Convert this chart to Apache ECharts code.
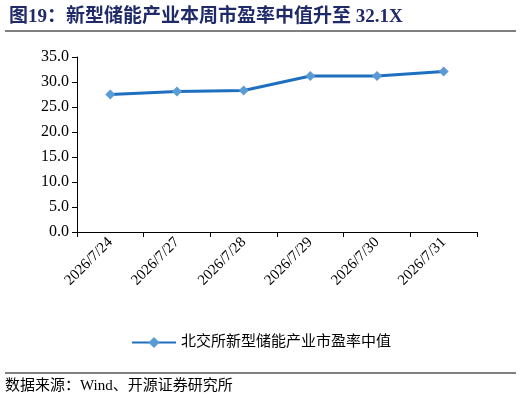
<!DOCTYPE html><html><head><meta charset="utf-8"><script src="https://cdn.jsdelivr.net/npm/echarts@6/dist/echarts.min.js"></script></head><body style="margin:0"><div id="c" style="width:522px;height:405px"></div><script>
var categories=['2026/7/24','2026/7/27','2026/7/28','2026/7/29','2026/7/30','2026/7/31'];
var values=[27.5,28.1,28.3,31.2,31.2,32.1];
var seriesName='北交所新型储能产业市盈率中值';
var f='"Liberation Serif","Noto Sans CJK SC",serif';
var c=echarts.init(document.getElementById('c'));
c.setOption({animation:false,
title:{text:'图19：新型储能产业本周市盈率中值升至 32.1X',left:4,top:3,textStyle:{fontFamily:f,fontSize:19,fontWeight:'bold',color:'#1f2a68'}},
graphic:[{type:'line',shape:{x1:5,y1:31,x2:516,y2:31},style:{stroke:'#000',lineWidth:1}},
{type:'line',shape:{x1:5,y1:373,x2:516,y2:373},style:{stroke:'#000',lineWidth:1}},
{type:'text',left:5,top:379,style:{text:'数据来源：Wind、开源证券研究所',font:'15px '+f,fill:'#000'}}],
legend:{bottom:50,left:'center',itemWidth:44,itemGap:10,textStyle:{fontFamily:f,fontSize:15,color:'#000'},data:[seriesName]},
grid:{left:77,top:57,width:400,height:175},
xAxis:{type:'category',data:categories,boundaryGap:true,axisLine:{lineStyle:{color:'#000'}},axisTick:{show:true,lineStyle:{color:'#000'}},axisLabel:{rotate:45,color:'#000',fontFamily:f,fontSize:15,interval:0,margin:8}},
yAxis:{type:'value',min:0,max:35,interval:5,axisLine:{show:true,lineStyle:{color:'#000'}},axisTick:{show:true,lineStyle:{color:'#000'}},splitLine:{show:false},axisLabel:{formatter:function(v){return v.toFixed(1)},color:'#000',fontFamily:f,fontSize:16}},
series:[{name:seriesName,type:'line',data:values,symbol:'diamond',symbolSize:10,itemStyle:{color:'#5b9bd5'},lineStyle:{color:'#1f6fc0',width:3}}]});
</script></body></html>
